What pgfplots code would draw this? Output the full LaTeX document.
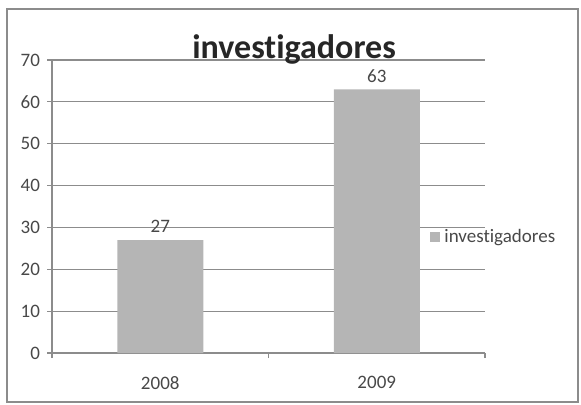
\documentclass[border=0pt]{standalone}
\usepackage{pgfplots}
\pgfplotsset{compat=1.18}
\usepackage{fontspec}
\setmainfont{Carlito}[Ligatures=NoCommon]
\definecolor{txt}{RGB}{72,72,72}
\definecolor{barc}{RGB}{181,181,181}
\definecolor{gridc}{RGB}{140,140,140}
\definecolor{framec}{RGB}{140,140,140}
\begin{document}
\begin{tikzpicture}[x=1pt,y=1pt]
\path[use as bounding box] (0,0) rectangle (290.5,202);
\draw[framec, line width=0.8pt] (3.5,1) rectangle (289,197.5);
\begin{axis}[
  at={(26pt,25.5pt)}, anchor=south west,
  scale only axis, width=216.5pt, height=146.5pt,
  xmin=-0.5, xmax=1.5, ymin=0, ymax=70,
  ytick={0,10,...,70},
  xtick={-0.5,0.5,1.5}, xticklabels={,,},
  extra x ticks={0,1}, extra x tick labels={2008,2009},
  extra x tick style={major tick length=0pt, grid=none},
  tick align=outside, major tick length=2.5pt,
  xtick pos=bottom, ytick pos=left,
  tick style={gridc, line width=0.6pt},
  axis x line*=bottom, axis y line*=left,
  axis line style={gridc, line width=0.6pt, -},
  ymajorgrids, grid style={gridc, line width=0.6pt},
  /pgf/number format/assume math mode=true,
  tick label style={font=\fontsize{9.5}{11}\selectfont, color=txt},
  xticklabel style={yshift=-8pt},
  ybar, bar width=43pt,
  nodes near coords,
  every node near coord/.append style={font=\fontsize{9.5}{11}\selectfont, color=txt},
  title={investigadores},
  title style={at={(0.559,1)}, anchor=base, yshift=-5.25pt, font=\fontsize{17}{20}\selectfont\bfseries, color=black!85},
  legend style={at={(0.873,0.396)}, anchor=west, draw=none, fill=none, font=\fontsize{9.5}{11}\selectfont, text=txt, inner sep=0pt},
  legend image code/.code={\fill[barc] (0pt,-2.5pt) rectangle (5pt,2.5pt);},
]
\addplot[fill=barc, draw=none] coordinates {(0,27) (1,63)};
\addlegendentry{investigadores}
\end{axis}
\end{tikzpicture}
\end{document}
